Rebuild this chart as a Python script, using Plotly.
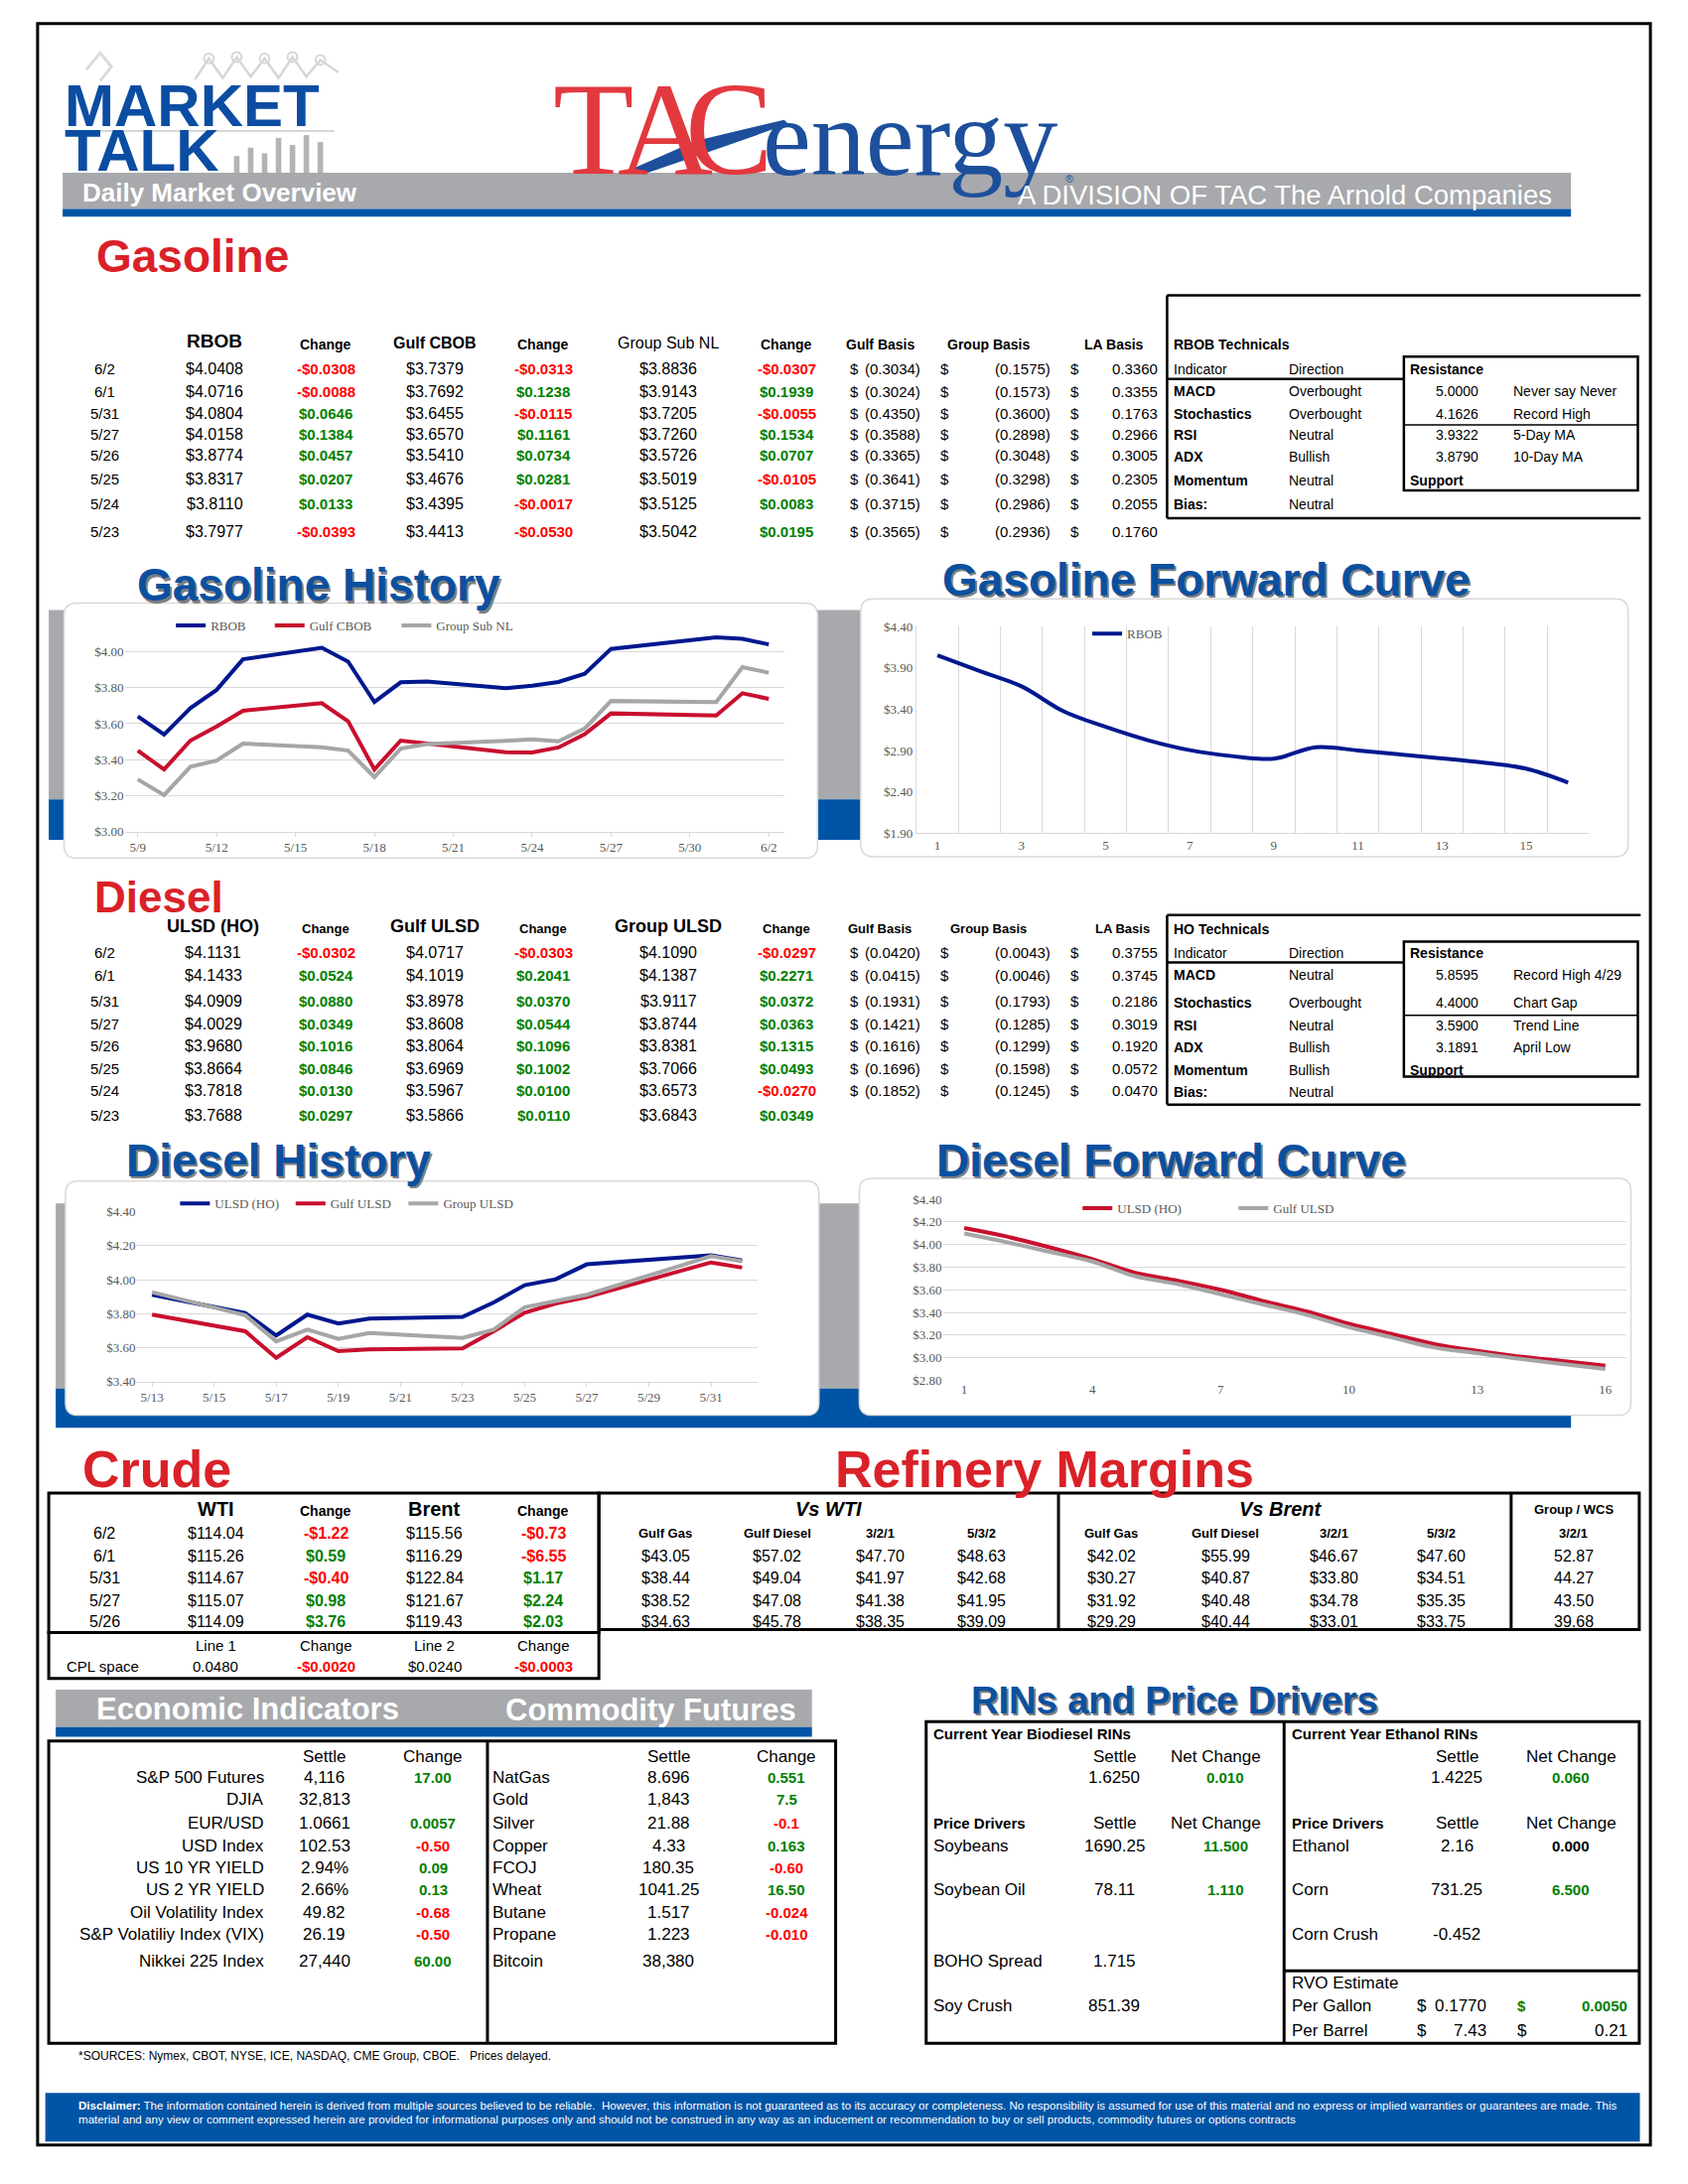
import plotly.graph_objects as go

# positions below were measured on a 1212 x 1568 grid of the page
GW, GH = 1212, 1568
SANS = "Liberation Sans, Arial, sans-serif"
SERIF = "Liberation Serif, Times New Roman, serif"
RED, GREEN = "#FF0000", "#008000"
NAVY, CRIMSON, GREY = "#00188F", "#C8102E", "#A6A6A6"
BLUE, BAR_GREY, TITLE_RED, TITLE_BLUE = "#0054A6", "#A7A9AC", "#DA2128", "#0B50A0"
GRID = "#D9D9D9"

# ---------------- data ----------------
gas_dates = ["6/2", "6/1", "5/31", "5/27", "5/26", "5/25", "5/24", "5/23"]
rbob = [4.0408, 4.0716, 4.0804, 4.0158, 3.8774, 3.8317, 3.8110, 3.7977]
rbob_chg = [-0.0308, -0.0088, 0.0646, 0.1384, 0.0457, 0.0207, 0.0133, -0.0393]
gulf_cbob = [3.7379, 3.7692, 3.6455, 3.6570, 3.5410, 3.4676, 3.4395, 3.4413]
gulf_cbob_chg = [-0.0313, 0.1238, -0.0115, 0.1161, 0.0734, 0.0281, -0.0017, -0.0530]
group_nl = [3.8836, 3.9143, 3.7205, 3.7260, 3.5726, 3.5019, 3.5125, 3.5042]
group_nl_chg = [-0.0307, 0.1939, -0.0055, 0.1534, 0.0707, -0.0105, 0.0083, 0.0195]
gas_gulf_basis = [-0.3034, -0.3024, -0.4350, -0.3588, -0.3365, -0.3641, -0.3715, -0.3565]
gas_group_basis = [-0.1575, -0.1573, -0.3600, -0.2898, -0.3048, -0.3298, -0.2986, -0.2936]
gas_la_basis = [0.3360, 0.3355, 0.1763, 0.2966, 0.3005, 0.2305, 0.2055, 0.1760]

rbob_tech = [("MACD", "Overbought"), ("Stochastics", "Overbought"), ("RSI", "Neutral"),
             ("ADX", "Bullish"), ("Momentum", "Neutral"), ("Bias:", "Neutral")]
rbob_levels = [("5.0000", "Never say Never"), ("4.1626", "Record High"),
               ("3.9322", "5-Day MA"), ("3.8790", "10-Day MA")]

dsl_dates = ["6/2", "6/1", "5/31", "5/27", "5/26", "5/25", "5/24", "5/23"]
ulsd = [4.1131, 4.1433, 4.0909, 4.0029, 3.9680, 3.8664, 3.7818, 3.7688]
ulsd_chg = [-0.0302, 0.0524, 0.0880, 0.0349, 0.1016, 0.0846, 0.0130, 0.0297]
gulf_ulsd = [4.0717, 4.1019, 3.8978, 3.8608, 3.8064, 3.6969, 3.5967, 3.5866]
gulf_ulsd_chg = [-0.0303, 0.2041, 0.0370, 0.0544, 0.1096, 0.1002, 0.0100, 0.0110]
group_ulsd = [4.1090, 4.1387, 3.9117, 3.8744, 3.8381, 3.7066, 3.6573, 3.6843]
group_ulsd_chg = [-0.0297, 0.2271, 0.0372, 0.0363, 0.1315, 0.0493, -0.0270, 0.0349]
dsl_gulf_basis = [-0.0420, -0.0415, -0.1931, -0.1421, -0.1616, -0.1696, -0.1852, None]
dsl_group_basis = [-0.0043, -0.0046, -0.1793, -0.1285, -0.1299, -0.1598, -0.1245, None]
dsl_la_basis = [0.3755, 0.3745, 0.2186, 0.3019, 0.1920, 0.0572, 0.0470, None]

ho_tech = [("MACD", "Neutral"), ("Stochastics", "Overbought"), ("RSI", "Neutral"),
           ("ADX", "Bullish"), ("Momentum", "Bullish"), ("Bias:", "Neutral")]
ho_levels = [("5.8595", "Record High 4/29"), ("4.4000", "Chart Gap"),
             ("3.5900", "Trend Line"), ("3.1891", "April Low")]

# chart series
gas_hist_dates = ["2022-05-09", "2022-05-10", "2022-05-11", "2022-05-12", "2022-05-13",
                  "2022-05-16", "2022-05-17", "2022-05-18", "2022-05-19", "2022-05-20",
                  "2022-05-23", "2022-05-24", "2022-05-25", "2022-05-26", "2022-05-27",
                  "2022-05-31", "2022-06-01", "2022-06-02"]
rbob_hist = [3.640, 3.539, 3.686, 3.788, 3.958, 4.022, 3.945, 3.720, 3.830, 3.834,
             3.7977, 3.8110, 3.8317, 3.8774, 4.0158, 4.0804, 4.0716, 4.0408]
gulf_cbob_hist = [3.450, 3.345, 3.506, 3.585, 3.672, 3.714, 3.613, 3.345, 3.506, 3.490,
                  3.4413, 3.4395, 3.4676, 3.5410, 3.6570, 3.6455, 3.7692, 3.7379]
group_nl_hist = [3.290, 3.203, 3.360, 3.395, 3.489, 3.469, 3.450, 3.303, 3.461, 3.487,
                 3.5042, 3.5125, 3.5019, 3.5726, 3.7260, 3.7205, 3.9143, 3.8836]
gas_hist_ticks = ["2022-05-09", "2022-05-12", "2022-05-15", "2022-05-18", "2022-05-21",
                  "2022-05-24", "2022-05-27", "2022-05-30", "2022-06-02"]

fwd_months = list(range(1, 17))
rbob_fwd = [4.054, 3.865, 3.677, 3.375, 3.186, 3.025, 2.904, 2.832, 2.800, 2.940,
            2.900, 2.852, 2.804, 2.751, 2.680, 2.511]

dsl_hist_dates = ["2022-05-13", "2022-05-16", "2022-05-17", "2022-05-18", "2022-05-19",
                  "2022-05-20", "2022-05-23", "2022-05-24", "2022-05-25", "2022-05-26",
                  "2022-05-27", "2022-05-31", "2022-06-01"]
ulsd_hist = [3.912, 3.804, 3.672, 3.795, 3.742, 3.771, 3.7818, 3.8664, 3.9680, 4.0029,
             4.0909, 4.1433, 4.1131]
gulf_ulsd_hist = [3.795, 3.697, 3.541, 3.662, 3.580, 3.590, 3.5967, 3.6969, 3.8064, 3.8608,
                  3.8978, 4.1019, 4.0717]
group_ulsd_hist = [3.927, 3.791, 3.638, 3.707, 3.652, 3.687, 3.6573, 3.7066, 3.8381, 3.8744,
                   3.9117, 4.1387, 4.1090]
dsl_hist_ticks = ["2022-05-13", "2022-05-15", "2022-05-17", "2022-05-19", "2022-05-21",
                  "2022-05-23", "2022-05-25", "2022-05-27", "2022-05-29", "2022-05-31"]

ulsd_fwd = [4.146, 4.070, 3.975, 3.870, 3.750, 3.680, 3.600, 3.500, 3.410, 3.300,
            3.210, 3.120, 3.060, 3.010, 2.970, 2.930]
gulf_ulsd_fwd = [4.097, 4.020, 3.935, 3.850, 3.720, 3.650, 3.560, 3.470, 3.380, 3.270,
                 3.180, 3.090, 3.040, 2.990, 2.945, 2.900]

crude_dates = ["6/2", "6/1", "5/31", "5/27", "5/26"]
wti = [114.04, 115.26, 114.67, 115.07, 114.09]
wti_chg = [-1.22, 0.59, -0.40, 0.98, 3.76]
brent = [115.56, 116.29, 122.84, 121.67, 119.43]
brent_chg = [-0.73, -6.55, 1.17, 2.24, 2.03]

wti_gulf_gas = [43.05, 38.44, 38.52, 34.63]
wti_gulf_diesel = [57.02, 49.04, 47.08, 45.78]
wti_321 = [47.70, 41.97, 41.38, 38.35]
wti_532 = [48.63, 42.68, 41.95, 39.09]
brent_gulf_gas = [42.02, 30.27, 31.92, 29.29]
brent_gulf_diesel = [55.99, 40.87, 40.48, 40.44]
brent_321 = [46.67, 33.80, 34.78, 33.01]
brent_532 = [47.60, 34.51, 35.35, 33.75]
wcs_321 = [52.87, 44.27, 43.50, 39.68]

econ_names = ["S&amp;P 500 Futures", "DJIA", "EUR/USD", "USD Index", "US 10 YR YIELD",
              "US 2 YR YIELD", "Oil Volatility Index", "S&amp;P Volatiliy Index (VIX)",
              "Nikkei 225 Index"]
econ_settle = ["4,116", "32,813", "1.0661", "102.53", "2.94%", "2.66%", "49.82", "26.19", "27,440"]
econ_chg = [17.00, None, 0.0057, -0.50, 0.09, 0.13, -0.68, -0.50, 60.00]
econ_chg_txt = ["17.00", "", "0.0057", "-0.50", "0.09", "0.13", "-0.68", "-0.50", "60.00"]

comm_names = ["NatGas", "Gold", "Silver", "Copper", "FCOJ", "Wheat", "Butane", "Propane", "Bitcoin"]
comm_settle = ["8.696", "1,843", "21.88", "4.33", "180.35", "1041.25", "1.517", "1.223", "38,380"]
comm_chg = [0.551, 7.5, -0.1, 0.163, -0.60, 16.50, -0.024, -0.010, None]
comm_chg_txt = ["0.551", "7.5", "-0.1", "0.163", "-0.60", "16.50", "-0.024", "-0.010", ""]

# ---------------- helpers ----------------
def X(v):
    return v / GW


def Y(v):
    return 1 - v / GH


ann, shp = [], []


def txt(x, y, s, size=16, color="black", anchor="center", family=SANS, bold=False, italic=False):
    if bold:
        s = "<b>%s</b>" % s
    if italic:
        s = "<i>%s</i>" % s
    ann.append(dict(x=X(x), y=Y(y), xref="paper", yref="paper", text=s, showarrow=False,
                    xanchor=anchor, yanchor="middle",
                    font=dict(size=size, color=color, family=family)))


def box(x0, y0, x1, y1, fill=None, color=None, width=0, layer="above"):
    shp.append(dict(type="rect", xref="paper", yref="paper",
                    x0=X(x0), x1=X(x1), y0=Y(y1), y1=Y(y0), layer=layer,
                    fillcolor=fill or "rgba(0,0,0,0)",
                    line=dict(color=color or "rgba(0,0,0,0)", width=width)))


def seg(x0, y0, x1, y1, color="black", width=2):
    shp.append(dict(type="line", xref="paper", yref="paper",
                    x0=X(x0), x1=X(x1), y0=Y(y0), y1=Y(y1),
                    line=dict(color=color, width=width)))


def path(points, fill=None, color=None, width=0, closed=True, layer="above"):
    d = "M" + " L".join("%f,%f" % (X(a), Y(b)) for a, b in points)
    if closed:
        d += " Z"
    shp.append(dict(type="path", xref="paper", yref="paper", path=d, layer=layer,
                    fillcolor=fill or "rgba(0,0,0,0)",
                    line=dict(color=color or "rgba(0,0,0,0)", width=width)))


def rounded(x0, y0, x1, y1, r=9):
    ax0, ax1, at, ab = X(x0), X(x1), Y(y0), Y(y1)
    rx, ry = r / GW, r / GH
    d = (f"M{ax0+rx},{at} L{ax1-rx},{at} Q{ax1},{at} {ax1},{at-ry} "
         f"L{ax1},{ab+ry} Q{ax1},{ab} {ax1-rx},{ab} L{ax0+rx},{ab} Q{ax0},{ab} {ax0},{ab+ry} "
         f"L{ax0},{at-ry} Q{ax0},{at} {ax0+rx},{at} Z")
    shp.append(dict(type="path", xref="paper", yref="paper", path=d, layer="below",
                    fillcolor="white", line=dict(color=GRID, width=1.5)))


def chg_txt(v, digits=4):
    if v < 0:
        return "-$%.*f" % (digits, -v), RED
    return "$%.*f" % (digits, v), GREEN


def red_title(x, y, s, size):
    txt(x, y, s, size, TITLE_RED, "left", bold=True)


def blue_title(x, y, s, size, color=TITLE_BLUE, shadow="#7F7F7F"):
    txt(x + 1.6, y + 1.6, s, size, shadow, "left", bold=True)
    txt(x, y, s, size, color, "left", bold=True)


# ---------------- page frame & header ----------------
box(27, 17, 1185, 1540, color="black", width=3)

box(45, 124, 1128, 150, fill=BAR_GREY, layer="below")
box(45, 150, 1128, 155.5, fill=BLUE, layer="below")

# decorative icon strokes behind the Market Talk logo
path([(140, 57), (150, 42), (160, 56), (170, 41), (180, 55), (190, 42), (200, 56),
      (210, 41), (220, 55), (230, 43), (243, 52)], color="#D6D6D6", width=2.5, closed=False)
for cx, cy in [(150, 42), (170, 41), (190, 42), (210, 41), (230, 43)]:
    shp.append(dict(type="circle", xref="paper", yref="paper", x0=X(cx - 3.5), x1=X(cx + 3.5),
                    y0=Y(cy + 3.5), y1=Y(cy - 3.5), line=dict(color="#D6D6D6", width=2)))
path([(62, 50), (72, 38), (80, 48), (72, 58)], color="#DADADA", width=3, closed=False)
seg(47, 94, 240, 94, "#D6D6D6", 2)
for bx, top in zip([168, 178, 188, 198, 208, 218, 228], [112, 106, 110, 99, 104, 97, 102]):
    box(bx, top, bx + 4, 124, fill="#B4B4B4", layer="below")

txt(45, 76, "MARKET", 60, "#0B4DA2", "left", bold=True)
txt(45, 108, "TALK", 60, "#0B4DA2", "left", bold=True)
txt(58, 138, "Daily Market Overview", 26, "white", "left", bold=True)

txt(426, 93, "T", 133, "#E2393F", family=SERIF)
txt(478, 93, "A", 133, "#E2393F", family=SERIF)
txt(524, 93, "C", 133, "#E2393F", family=SERIF)
path([(452, 122), (500, 101), (563, 86), (566, 89), (512, 108), (462, 125)], fill="#1D4F9C")
txt(546, 99, "energy", 110, "#1D4F9C", "left", family=SERIF)
txt(768, 128, "®", 11, "#1D4F9C")
txt(729, 140, "A DIVISION OF TAC The Arnold Companies", 27.5, "white", "left")

# ---------------- gasoline ----------------
red_title(68, 184, "Gasoline", 46)

gy = [265, 281, 297, 312, 327, 344, 362, 382]
txt(154, 245, "RBOB", 19, bold=True)
txt(234, 247, "Change", 14, bold=True)
txt(312, 246, "Gulf CBOB", 16, bold=True)
txt(390, 247, "Change", 14, bold=True)
txt(480, 246, "Group Sub NL", 16)
txt(565, 247, "Change", 14, bold=True)
txt(632, 247, "Gulf Basis", 14, bold=True)
txt(710, 247, "Group Basis", 14, bold=True)
txt(800, 247, "LA Basis", 14, bold=True)


def basis_cols(y, g, gr, la):
    if g is not None:
        txt(609, y, "$", 15, anchor="left")
        txt(662, y, "(%.4f)" % -g, 15, anchor="right")
    if gr is not None:
        txt(674, y, "$", 15, anchor="left")
        txt(756, y, "(%.4f)" % -gr, 15, anchor="right")
    if la is not None:
        txt(767, y, "$", 15, anchor="left")
        txt(833, y, "%.4f" % la, 15, anchor="right")


for i, y in enumerate(gy):
    txt(75, y, gas_dates[i], 15)
    txt(154, y, "$%.4f" % rbob[i], 16)
    s, c = chg_txt(rbob_chg[i]); txt(234, y, s, 15, c, bold=True)
    txt(312, y, "$%.4f" % gulf_cbob[i], 16)
    s, c = chg_txt(gulf_cbob_chg[i]); txt(390, y, s, 15, c, bold=True)
    txt(480, y, "$%.4f" % group_nl[i], 16)
    s, c = chg_txt(group_nl_chg[i]); txt(565, y, s, 15, c, bold=True)
    basis_cols(y, gas_gulf_basis[i], gas_group_basis[i], gas_la_basis[i])


def technicals(top, title_y, ind_y, res_top, res_mid, res_bot, rows_y, bottom, title, rows, levels):
    seg(838, top, 1178, top, width=2.5)
    seg(838, top, 838, bottom, width=2.5)
    seg(838, bottom, 1178, bottom, width=2.5)
    seg(838, ind_y + 7, 1008, ind_y + 7, width=2.5)
    box(1008, res_top, 1176, res_bot, color="black", width=2.5)
    seg(1008, res_mid, 1176, res_mid, width=1.5)
    txt(841, title_y, title, 14, anchor="left", bold=True)
    txt(841, ind_y, "Indicator", 14, anchor="left")
    txt(924, ind_y, "Direction", 14, anchor="left")
    txt(1011, ind_y, "Resistance", 14, anchor="left", bold=True)
    for (name, d), y in zip(rows, rows_y):
        txt(841, y, name, 14, anchor="left", bold=True)
        txt(924, y, d, 14, anchor="left")
    for (v, lab), y in zip(levels, rows_y[:4]):
        txt(1063, y, v, 14, anchor="right")
        txt(1085, y, lab, 14, anchor="left")
    txt(1011, rows_y[4], "Support", 14, anchor="left", bold=True)


technicals(212, 247, 265, 256, 305, 352, [281, 297, 312, 328, 345, 362], 372,
           "RBOB Technicals", rbob_tech, rbob_levels)

# ---------------- chart backgrounds ----------------
box(35, 438, 640, 574, fill=BAR_GREY, layer="below")
box(35, 574, 640, 603, fill=BLUE, layer="below")
box(40, 864, 1128, 997, fill=BAR_GREY, layer="below")
box(40, 997, 1128, 1025, fill=BLUE, layer="below")
rounded(46, 433, 587, 616)
rounded(618, 430, 1169, 615)
rounded(47, 848, 588, 1016)
rounded(617, 846, 1171, 1016)

blue_title(97, 420, "Gasoline History", 46)
blue_title(675, 416, "Gasoline Forward Curve", 46)
blue_title(89, 833, "Diesel History", 46)
blue_title(671, 833, "Diesel Forward Curve", 46)

# ---------------- diesel ----------------
red_title(66, 644, "Diesel", 44)

dy = [684, 700, 719, 735, 751, 767, 783, 801]
txt(153, 665, "ULSD (HO)", 18, bold=True)
txt(234, 667, "Change", 13, bold=True)
txt(312, 665, "Gulf ULSD", 18, bold=True)
txt(390, 667, "Change", 13, bold=True)
txt(480, 665, "Group ULSD", 18, bold=True)
txt(565, 667, "Change", 13, bold=True)
txt(632, 667, "Gulf Basis", 13, bold=True)
txt(710, 667, "Group Basis", 13, bold=True)
txt(806, 667, "LA Basis", 13, bold=True)
for i, y in enumerate(dy):
    txt(75, y, dsl_dates[i], 15)
    txt(153, y, "$%.4f" % ulsd[i], 16)
    s, c = chg_txt(ulsd_chg[i]); txt(234, y, s, 15, c, bold=True)
    txt(312, y, "$%.4f" % gulf_ulsd[i], 16)
    s, c = chg_txt(gulf_ulsd_chg[i]); txt(390, y, s, 15, c, bold=True)
    txt(480, y, "$%.4f" % group_ulsd[i], 16)
    s, c = chg_txt(group_ulsd_chg[i]); txt(565, y, s, 15, c, bold=True)
    basis_cols(y, dsl_gulf_basis[i], dsl_group_basis[i], dsl_la_basis[i])

technicals(657, 667, 684, 676, 729, 773, [700, 720, 736, 752, 768, 784], 793,
           "HO Technicals", ho_tech, ho_levels)

# ---------------- crude & refinery margins ----------------
red_title(58, 1055, "Crude", 52)
red_title(598, 1055, "Refinery Margins", 52)

box(35, 1072, 430, 1172, color="black", width=3)
box(35, 1172, 430, 1205, color="black", width=3)
box(430, 1072, 1177, 1170, color="black", width=3)
seg(760, 1072, 760, 1170, width=3)
seg(1085, 1072, 1085, 1170, width=3)

txt(155, 1083, "WTI", 20, bold=True)
txt(234, 1085, "Change", 14, bold=True)
txt(312, 1083, "Brent", 20, bold=True)
txt(390, 1085, "Change", 14, bold=True)
cy = [1101, 1117, 1133, 1149, 1164]
for i, y in enumerate(cy):
    txt(75, y, crude_dates[i], 16)
    txt(155, y, "$%.2f" % wti[i], 16)
    s, c = chg_txt(wti_chg[i], 2); txt(234, y, s, 16, c, bold=True)
    txt(312, y, "$%.2f" % brent[i], 16)
    s, c = chg_txt(brent_chg[i], 2); txt(390, y, s, 16, c, bold=True)

txt(155, 1181, "Line 1", 15)
txt(234, 1181, "Change", 15)
txt(312, 1181, "Line 2", 15)
txt(390, 1181, "Change", 15)
txt(46, 1196, "CPL space", 15, anchor="left")
txt(155, 1196, "0.0480", 15)
txt(234, 1196, "-$0.0020", 15, RED, bold=True)
txt(312, 1196, "$0.0240", 15)
txt(390, 1196, "-$0.0003", 15, RED, bold=True)

txt(595, 1083, "Vs WTI", 20, bold=True, italic=True)
txt(920, 1083, "Vs Brent", 20, bold=True, italic=True)
txt(1130, 1084, "Group / WCS", 13, bold=True)
mcols = [478, 558, 632, 705, 798, 880, 958, 1035, 1130]
mheads = ["Gulf Gas", "Gulf Diesel", "3/2/1", "5/3/2", "Gulf Gas", "Gulf Diesel", "3/2/1", "5/3/2", "3/2/1"]
mseries = [wti_gulf_gas, wti_gulf_diesel, wti_321, wti_532, brent_gulf_gas, brent_gulf_diesel,
           brent_321, brent_532, wcs_321]
for j, (x, h, ser) in enumerate(zip(mcols, mheads, mseries)):
    txt(x, 1101, h, 13, bold=True)
    for v, y in zip(ser, cy[1:]):
        txt(x, y, ("%.2f" if j == 8 else "$%.2f") % v, 16)

# ---------------- economic indicators / commodities ----------------
box(40, 1213, 583, 1240, fill=BAR_GREY, layer="below")
box(40, 1240, 583, 1247, fill=BLUE, layer="below")
txt(178, 1227, "Economic Indicators", 31, "white", bold=True)
txt(467, 1228, "Commodity Futures", 31, "white", bold=True)

box(35, 1250, 600, 1467, color="black", width=3)
seg(350, 1250, 350, 1467, width=3)
txt(233, 1261, "Settle", 17)
txt(311, 1261, "Change", 17)
txt(480, 1261, "Settle", 17)
txt(565, 1261, "Change", 17)
ey = [1276, 1292, 1309, 1325, 1341, 1357, 1373, 1389, 1408]
for i, y in enumerate(ey):
    txt(191, y, econ_names[i], 17, anchor="right")
    txt(233, y, econ_settle[i], 17)
    if econ_chg[i] is not None:
        txt(311, y, econ_chg_txt[i], 15, RED if econ_chg[i] < 0 else GREEN, bold=True)
    txt(352, y, comm_names[i], 17, anchor="left")
    txt(480, y, comm_settle[i], 17)
    if comm_chg[i] is not None:
        txt(565, y, comm_chg_txt[i], 15, RED if comm_chg[i] < 0 else GREEN, bold=True)

txt(55, 1476, "*SOURCES: Nymex, CBOT, NYSE, ICE, NASDAQ, CME Group, CBOE.   Prices delayed.", 12,
    anchor="left")

# ---------------- RINs ----------------
blue_title(696, 1221, "RINs and Price Drivers", 38)
box(665, 1236, 1177, 1467, color="black", width=3)
seg(922, 1236, 922, 1467, width=3)
seg(922, 1415, 1177, 1415, width=3)

txt(669, 1245, "Current Year Biodiesel RINs", 15, anchor="left", bold=True)
txt(800, 1261, "Settle", 17)
txt(873, 1261, "Net Change", 17)
txt(800, 1276, "1.6250", 17)
txt(880, 1276, "0.010", 15, GREEN, bold=True)
txt(669, 1309, "Price Drivers", 15, anchor="left", bold=True)
txt(800, 1309, "Settle", 17)
txt(873, 1309, "Net Change", 17)
txt(669, 1325, "Soybeans", 17, anchor="left")
txt(800, 1325, "1690.25", 17)
txt(880, 1325, "11.500", 15, GREEN, bold=True)
txt(669, 1357, "Soybean Oil", 17, anchor="left")
txt(800, 1357, "78.11", 17)
txt(880, 1357, "1.110", 15, GREEN, bold=True)
txt(669, 1408, "BOHO Spread", 17, anchor="left")
txt(800, 1408, "1.715", 17)
txt(669, 1440, "Soy Crush", 17, anchor="left")
txt(800, 1440, "851.39", 17)

txt(926, 1245, "Current Year Ethanol RINs", 15, anchor="left", bold=True)
txt(1046, 1261, "Settle", 17)
txt(1128, 1261, "Net Change", 17)
txt(1046, 1276, "1.4225", 17)
txt(1128, 1276, "0.060", 15, GREEN, bold=True)
txt(926, 1309, "Price Drivers", 15, anchor="left", bold=True)
txt(1046, 1309, "Settle", 17)
txt(1128, 1309, "Net Change", 17)
txt(926, 1325, "Ethanol", 17, anchor="left")
txt(1046, 1325, "2.16", 17)
txt(1128, 1325, "0.000", 15, "black", bold=True)
txt(926, 1357, "Corn", 17, anchor="left")
txt(1046, 1357, "731.25", 17)
txt(1128, 1357, "6.500", 15, GREEN, bold=True)
txt(926, 1389, "Corn Crush", 17, anchor="left")
txt(1046, 1389, "-0.452", 17)
txt(926, 1424, "RVO Estimate", 17, anchor="left")
txt(926, 1440, "Per Gallon", 17, anchor="left")
txt(1016, 1440, "$", 17, anchor="left")
txt(1069, 1440, "0.1770", 17, anchor="right")
txt(1088, 1440, "$", 15, GREEN, "left", bold=True)
txt(1170, 1440, "0.0050", 15, GREEN, "right", bold=True)
txt(926, 1458, "Per Barrel", 17, anchor="left")
txt(1016, 1458, "$", 17, anchor="left")
txt(1069, 1458, "7.43", 17, anchor="right")
txt(1088, 1458, "$", 17, anchor="left")
txt(1170, 1458, "0.21", 17, anchor="right")

# ---------------- disclaimer ----------------
box(32, 1502, 1178, 1538, fill=BLUE, color="white", width=1.5)
txt(55, 1511.5, "<b>Disclaimer:</b> The information contained herein is derived from multiple sources "
    "believed to be reliable.  However, this information is not guaranteed as to its accuracy or "
    "completeness. No responsibility is assumed for use of this material and no express or implied "
    "warranties or guarantees are made. This", 11.6, "white", "left")
txt(55, 1521.5, "material and any view or comment expressed herein are provided for informational "
    "purposes only and should not be construed in any way as an inducement or recommendation to "
    "buy or sell products, commodity futures or options contracts", 11.6, "white", "left")

# ---------------- charts ----------------
fig = go.Figure()
chart_font = dict(family=SERIF, size=13, color="#595959")

series = [
    (gas_hist_dates, rbob_hist, NAVY, "RBOB", "x", "y", (127, 449)),
    (gas_hist_dates, gulf_cbob_hist, CRIMSON, "Gulf CBOB", "x", "y", (198, 449)),
    (gas_hist_dates, group_nl_hist, GREY, "Group Sub NL", "x", "y", (289, 449)),
    (fwd_months, rbob_fwd, NAVY, "RBOB", "x2", "y2", (785, 455)),
    (dsl_hist_dates, ulsd_hist, NAVY, "ULSD (HO)", "x3", "y3", (130, 864)),
    (dsl_hist_dates, gulf_ulsd_hist, CRIMSON, "Gulf ULSD", "x3", "y3", (213, 864)),
    (dsl_hist_dates, group_ulsd_hist, GREY, "Group ULSD", "x3", "y3", (294, 864)),
    (fwd_months, ulsd_fwd, CRIMSON, "ULSD (HO)", "x4", "y4", (778, 867.5)),
    (fwd_months, gulf_ulsd_fwd, GREY, "Gulf ULSD", "x4", "y4", (890, 867.5)),
]
legends = {}
for k, (xs, ys, col, name, xa, ya, (lx, ly)) in enumerate(series):
    key = "legend" if k == 0 else "legend%d" % (k + 1)
    smooth = xa in ("x2", "x4")
    fig.add_trace(go.Scatter(x=xs, y=ys, mode="lines", name=name, xaxis=xa, yaxis=ya,
                             legend=key, hoverinfo="skip",
                             line=dict(color=col, width=4, shape="spline" if smooth else "linear")))
    legends[key] = dict(x=X(lx) - 6 / 1700, y=Y(ly), xanchor="left", yanchor="middle",
                        orientation="h", bgcolor="rgba(0,0,0,0)", font=chart_font,
                        itemwidth=30, borderwidth=0)

axis_common = dict(tickfont=chart_font, zeroline=False, fixedrange=True)

fig.update_layout(
    width=1700, height=2200, margin=dict(l=0, r=0, t=0, b=0, autoexpand=False),
    paper_bgcolor="white", plot_bgcolor="rgba(0,0,0,0)", showlegend=True,
    annotations=ann, shapes=shp,
    xaxis=dict(domain=[X(89.5), X(563)], anchor="y", type="date",
               range=["2022-05-08 12:00", "2022-06-02 14:00"], tickvals=gas_hist_ticks,
               tickformat="%-m/%-d", showgrid=False, showline=True, linecolor=GRID,
               ticks="outside", ticklen=4, tickcolor=GRID, **axis_common),
    yaxis=dict(domain=[Y(597), Y(455)], anchor="x", range=[3.0, 4.1],
               tickvals=[3.0, 3.2, 3.4, 3.6, 3.8, 4.0], tickformat="$.2f",
               gridcolor=GRID, showline=False, **axis_common),
    xaxis2=dict(domain=[X(658), X(1141)], anchor="y2", range=[0.5, 16.5],
                tickvals=[1, 3, 5, 7, 9, 11, 13, 15], showgrid=False, showline=True,
                linecolor=GRID, ticks="",
                minor=dict(tickvals=[v + 0.5 for v in fwd_months], showgrid=True,
                           gridcolor=GRID, ticks=""), **axis_common),
    yaxis2=dict(domain=[Y(598), Y(450)], anchor="x2", range=[1.9, 4.4],
                tickvals=[1.9, 2.4, 2.9, 3.4, 3.9, 4.4], tickformat="$.2f",
                showgrid=False, showline=True, linecolor=GRID, **axis_common),
    xaxis3=dict(domain=[X(98), X(544)], anchor="y3", type="date",
                range=["2022-05-12 12:00", "2022-06-01 12:00"], tickvals=dsl_hist_ticks,
                tickformat="%-m/%-d", showgrid=False, showline=True, linecolor=GRID,
                ticks="outside", ticklen=4, tickcolor=GRID, **axis_common),
    yaxis3=dict(domain=[Y(992), Y(870)], anchor="x3", range=[3.4, 4.4],
                tickvals=[3.4, 3.6, 3.8, 4.0, 4.2, 4.4], tickformat="$.2f",
                gridcolor=GRID, showline=False, **axis_common),
    xaxis4=dict(domain=[X(677), X(1168)], anchor="y4", range=[0.5, 16.5],
                tickvals=[1, 4, 7, 10, 13, 16], showgrid=False, showline=False, ticks="",
                **axis_common),
    yaxis4=dict(domain=[Y(991), Y(861)], anchor="x4", range=[2.8, 4.4],
                tickvals=[2.8, 3.0, 3.2, 3.4, 3.6, 3.8, 4.0, 4.2, 4.4], tickformat="$.2f",
                gridcolor=GRID, showline=False, **axis_common),
    **legends,
)

fig.write_html("out.html", config={"displayModeBar": False},
               post_script="document.body.style.margin='0px';document.body.style.overflow='hidden';")
